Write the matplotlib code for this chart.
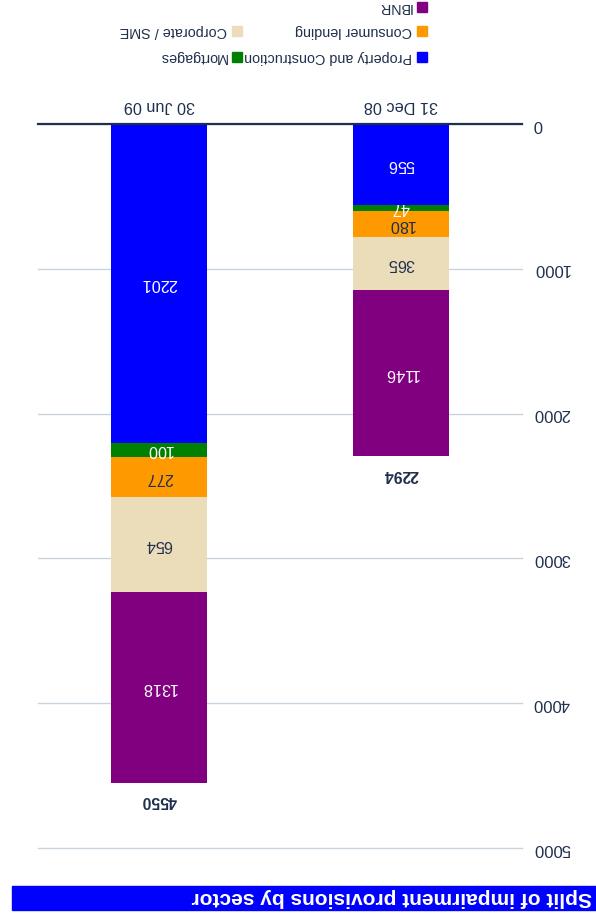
import matplotlib.pyplot as plt
from matplotlib.patches import Rectangle

plt.rcParams['font.family'] = ['Liberation Sans', 'DejaVu Sans']

# data
periods = ['31 Dec 08', '30 Jun 09']
sectors = ['Property and Construction', 'Mortgages', 'Consumer lending',
           'Corporate / SME', 'IBNR']
property_constr = [556, 2201]
mortgages = [47, 100]
consumer = [180, 277]
corporate = [365, 654]
ibnr = [1146, 1318]
totals = [2294, 4550]
yticks = [0, 1000, 2000, 3000, 4000, 5000]

colors = ['#0000ff', '#008000', '#ff9900', '#ecddba', '#800080']
label_cols = ['white', 'white', '#1f2f4d', '#1f2f4d', 'white']
navy = '#1f2f4d'
W, H = 596, 916
fs = 11.7

fig = plt.figure(figsize=(W / 100, H / 100), dpi=100)
ax = fig.add_axes([38 / W, 1 - 848 / H, 484 / W, 724 / H])

series = [property_constr, mortgages, consumer, corporate, ibnr]
x = list(range(len(periods)))
bottom = [0, 0]
for vals, c, lc in zip(series, colors, label_cols):
    bc = ax.bar(x, vals, 0.4, bottom=bottom, color=c, zorder=2)
    ax.bar_label(bc, labels=[str(v) for v in vals], label_type='center',
                 rotation=180, color=lc, fontsize=fs)
    bottom = [b + v for b, v in zip(bottom, vals)]

for xi, t in zip(x, totals):
    ax.annotate(str(t), (xi, t), xytext=(0, -18), textcoords='offset pixels',
                rotation=180, ha='center', va='center', color=navy,
                fontsize=11.3, fontweight='bold')

# the whole chart is drawn upside down
ax.set_xlim(1.5, -0.5)
ax.set_ylim(5000, 0)
ax.set_yticks(yticks)
ax.set_yticklabels([str(t) for t in yticks])
ax.yaxis.tick_right()
ax.xaxis.tick_top()
ax.set_xticks(x)
ax.set_xticklabels(periods)
ax.tick_params(axis='y', length=0, pad=8, labelsize=12, labelcolor=navy,
               labelrotation=180)
ax.tick_params(axis='x', length=0, pad=8, labelsize=fs, labelcolor=navy,
               labelrotation=180)
for lab in ax.get_yticklabels():
    lab.set_va('center')
ax.grid(axis='y', color='#c9d3de', lw=1, zorder=0)
for gl in ax.get_ygridlines():
    gl.set_clip_on(False)
for s in ['bottom', 'left', 'right']:
    ax.spines[s].set_visible(False)
ax.spines['top'].set_color(navy)
ax.spines['top'].set_linewidth(1.6)
ax.spines['top'].set_zorder(3)

# legend (rotated)
leg_pos = [(417, 57), (232, 57), (417, 31), (232, 31), (417, 7)]
for name, c, (px, py) in zip(sectors, colors, leg_pos):
    fig.patches.append(Rectangle((px / W, 1 - (py + 5) / H), 10 / W, 10 / H,
                                 transform=fig.transFigure, color=c))
    fig.text((px - 5) / W, 1 - py / H, name, rotation=180, ha='right',
             va='center', fontsize=10.4, color=navy)

# title bar
fig.patches.append(Rectangle((12 / W, 1 - 910 / H), 584 / W, 24 / H,
                             transform=fig.transFigure, color='#0000ff'))
fig.text(592 / W, 1 - 898 / H, 'Split of impairment provisions by sector',
         rotation=180, ha='right', va='center', fontsize=15,
         fontweight='bold', color='white')

fig.savefig('out.png', dpi=100)
